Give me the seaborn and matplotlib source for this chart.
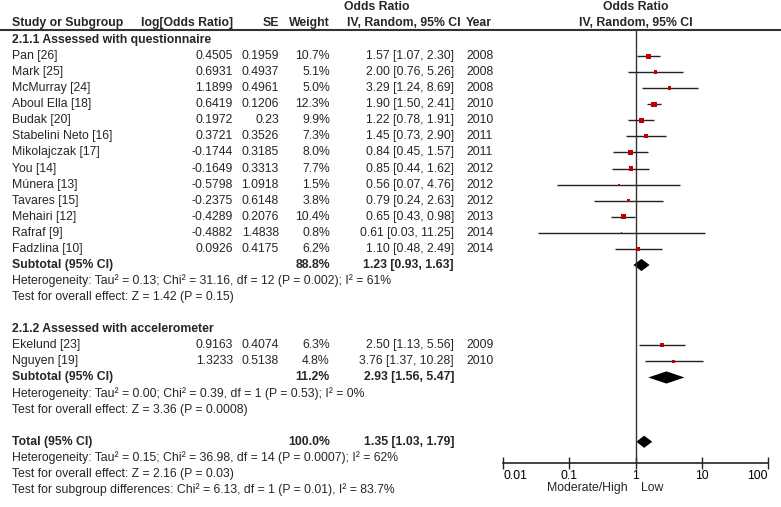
import numpy as np
import pandas as pd
import matplotlib
matplotlib.use("Agg")
from matplotlib import pyplot as plt
import seaborn as sns

# study data
studies1 = ["Pan [26]", "Mark [25]", "McMurray [24]", "Aboul Ella [18]", "Budak [20]",
            "Stabelini Neto [16]", "Mikolajczak [17]", "You [14]", "Múnera [13]",
            "Tavares [15]", "Mehairi [12]", "Rafraf [9]", "Fadzlina [10]"]
log_or1 = [0.4505, 0.6931, 1.1899, 0.6419, 0.1972, 0.3721, -0.1744, -0.1649,
           -0.5798, -0.2375, -0.4289, -0.4882, 0.0926]
se1 = ["0.1959", "0.4937", "0.4961", "0.1206", "0.23", "0.3526", "0.3185", "0.3313",
       "1.0918", "0.6148", "0.2076", "1.4838", "0.4175"]
weight1 = [10.7, 5.1, 5.0, 12.3, 9.9, 7.3, 8.0, 7.7, 1.5, 3.8, 10.4, 0.8, 6.2]
year1 = [2008, 2008, 2008, 2010, 2010, 2011, 2011, 2012, 2012, 2012, 2013, 2014, 2014]

studies2 = ["Ekelund [23]", "Nguyen [19]"]
log_or2 = [0.9163, 1.3233]
se2 = ["0.4074", "0.5138"]
weight2 = [6.3, 4.8]
year2 = [2009, 2010]

# pooled results
pooled_labels = ["Subtotal (95% CI)", "Subtotal (95% CI)", "Total (95% CI)"]
pooled_weight = [88.8, 11.2, 100.0]
pooled_or = [1.23, 2.93, 1.35]
pooled_lo = [0.93, 1.56, 1.03]
pooled_hi = [1.63, 5.47, 1.79]

het1 = ["Heterogeneity: Tau² = 0.13; Chi² = 31.16, df = 12 (P = 0.002); I² = 61%",
        "Test for overall effect: Z = 1.42 (P = 0.15)"]
het2 = ["Heterogeneity: Tau² = 0.00; Chi² = 0.39, df = 1 (P = 0.53); I² = 0%",
        "Test for overall effect: Z = 3.36 (P = 0.0008)"]
het_tot = ["Heterogeneity: Tau² = 0.15; Chi² = 36.98, df = 14 (P = 0.0007); I² = 62%",
           "Test for overall effect: Z = 2.16 (P = 0.03)",
           "Test for subgroup differences: Chi² = 6.13, df = 1 (P = 0.01), I² = 83.7%"]

sections = ["2.1.1 Assessed with questionnaire", "2.1.2 Assessed with accelerometer"]
xticks = [0.01, 0.1, 1, 10, 100]
xticklabels = ["0.01", "0.1", "1", "10", "100"]

sns.set_theme(style="white")
plt.rcParams["font.family"] = ["Liberation Sans", "DejaVu Sans"]
FS = 8.8
RED = "#c00000"

W, H = 781, 507
ROW0, ROWH = 40, 16.07

fig = plt.figure(figsize=(W / 100, H / 100), dpi=100)
tax = fig.add_axes([0, 0, 1, 1])
tax.set_xlim(0, W)
tax.set_ylim((H - ROW0) / ROWH, -ROW0 / ROWH)
tax.axis("off")

# row layout
df1 = pd.DataFrame({"study": studies1, "log_or": log_or1, "se": se1,
                    "weight": weight1, "year": year1})
df2 = pd.DataFrame({"study": studies2, "log_or": log_or2, "se": se2,
                    "weight": weight2, "year": year2})
df1["row"] = np.arange(len(df1)) + 1
df2["row"] = np.arange(len(df2)) + len(df1) + 6
df = pd.concat([df1, df2], ignore_index=True)
se_f = df["se"].astype(float)
df["or"] = np.exp(df["log_or"])
df["lo"] = np.exp(df["log_or"] - 1.96 * se_f)
df["hi"] = np.exp(df["log_or"] + 1.96 * se_f)

sub_rows = [len(df1) + 1, df2["row"].max() + 1, df2["row"].max() + 5]
sec_rows = [0, len(df1) + 5]

# header
bold = dict(fontsize=FS, fontweight="bold", va="center")
tax.text(12, -1.05, "Study or Subgroup", ha="left", **bold)
tax.text(233, -1.05, "log[Odds Ratio]", ha="right", **bold)
tax.text(279, -1.05, "SE", ha="right", **bold)
tax.text(330, -1.05, "Weight", ha="right", **bold)
tax.text(344, -2.05, "Odds Ratio", ha="left", **bold)
tax.text(347, -1.05, "IV, Random, 95% CI", ha="left", **bold)
tax.text(492, -1.05, "Year", ha="right", **bold)
tax.text(636, -2.05, "Odds Ratio", ha="center", **bold)
tax.text(636, -1.05, "IV, Random, 95% CI", ha="center", **bold)
tax.plot([0, W], [-0.62, -0.62], color="#333333", lw=1.5)

norm = dict(fontsize=FS, va="center")
for r, s in zip(sec_rows, sections):
    tax.text(12, r, s, ha="left", **bold)

for _, d in df.iterrows():
    r = d["row"]
    tax.text(12, r, d["study"], ha="left", **norm)
    tax.text(233, r, f"{d['log_or']:.4f}", ha="right", **norm)
    tax.text(279, r, d["se"], ha="right", **norm)
    tax.text(330, r, f"{d['weight']:.1f}%", ha="right", **norm)
    tax.text(454, r, f"{d['or']:.2f} [{d['lo']:.2f}, {d['hi']:.2f}]", ha="right", **norm)
    tax.text(466, r, str(d["year"]), ha="left", **norm)

for r, lab, w, o, lo, hi in zip(sub_rows, pooled_labels, pooled_weight,
                                pooled_or, pooled_lo, pooled_hi):
    tax.text(12, r, lab, ha="left", **bold)
    tax.text(330, r, f"{w:.1f}%", ha="right", **bold)
    tax.text(454, r, f"{o:.2f} [{lo:.2f}, {hi:.2f}]", ha="right", **bold)

for k, s in enumerate(het1):
    tax.text(12, sub_rows[0] + 1 + k, s, ha="left", **norm)
for k, s in enumerate(het2):
    tax.text(12, sub_rows[1] + 1 + k, s, ha="left", **norm)
for k, s in enumerate(het_tot):
    tax.text(12, sub_rows[2] + 1 + k, s, ha="left", **norm)

tax.text(628, 27.9, "Moderate/High", ha="right", **norm)
tax.text(641, 27.9, "Low", ha="left", **norm)

# forest panel
top_px, bot_px = 30, 462.7
ax = fig.add_axes([503 / W, 1 - bot_px / H, 265 / W, (bot_px - top_px) / H])
ax.set_xscale("log")
ax.set_xlim(0.01, 100)
ax.set_ylim((bot_px - ROW0) / ROWH, (top_px - ROW0) / ROWH)
ax.patch.set_alpha(0)
ax.axvline(1, color="#333333", lw=1)

ax.hlines(df["row"], df["lo"], df["hi"], color="#222222", lw=1)
sns.scatterplot(data=df, x="or", y="row", size="weight", sizes=(1.5, 14),
                size_norm=(0.8, 12.3), marker="s", color=RED, linewidth=0,
                legend=False, ax=ax, zorder=3)

for r, o, lo, hi in zip(sub_rows, pooled_or, pooled_lo, pooled_hi):
    h = 0.38
    ax.fill([lo, o, hi, o], [r, r - h, r, r + h], color="black", lw=0)

sns.despine(ax=ax, left=True, top=True, right=True)
ax.spines["bottom"].set_color("#222222")
ax.spines["bottom"].set_linewidth(1.2)
ax.set_yticks([])
ax.set_xticks(xticks)
ax.set_xticklabels(xticklabels)
ax.minorticks_off()
ax.tick_params(axis="x", direction="inout", length=9, width=1, labelsize=FS,
               pad=1, colors="#222222", labelcolor="black", bottom=True)
labels = ax.get_xticklabels()
labels[0].set_horizontalalignment("left")
labels[-1].set_horizontalalignment("right")
ax.set_xlabel("")
ax.set_ylabel("")

fig.savefig("out.png", dpi=100)
